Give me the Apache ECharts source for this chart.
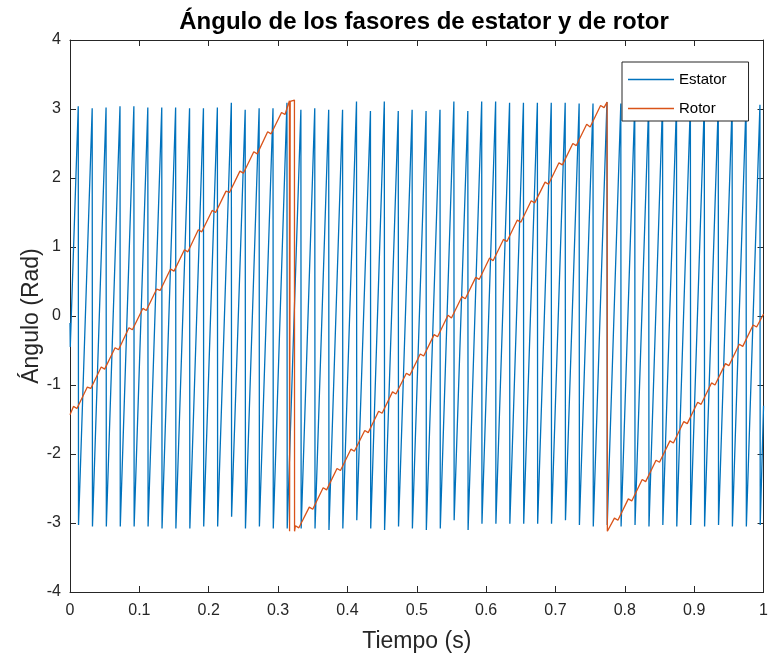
<!DOCTYPE html>
<html>
<head>
<meta charset="utf-8">
<script src="https://cdn.jsdelivr.net/npm/echarts@6/dist/echarts.min.js"></script>
<style>html,body{margin:0;padding:0;background:#fff;}#chart{width:771px;height:661px;}</style>
</head>
<body>
<div id="chart"></div>
<script>
// ---- tick labels ----
const xTickLabels = ['0','0.1','0.2','0.3','0.4','0.5','0.6','0.7','0.8','0.9','1'];
const yTickLabels = ['-4','-3','-2','-1','0','1','2','3','4'];
const seriesNames = ['Estator','Rotor'];

// ---- stator (sawtooth) ----
const statorStartT = [0, 0.0004];
const statorStartV = [-0.10, -0.45];
const statorPeakT = [0.0119,0.0320,0.0520,0.0721,0.0921,0.1122,0.1323,0.1523,0.1724,0.1924,0.2125,0.2326,0.2526,0.2727,0.2927,0.3128,0.3329,0.3529,0.3730,0.3930,0.4131,0.4332,0.4532,0.4733,0.4933,0.5134,0.5335,0.5535,0.5736,0.5936,0.6137,0.6338,0.6538,0.6739,0.6939,0.7140,0.7341,0.7541,0.7742,0.7942,0.8143,0.8344,0.8544,0.8745,0.8945,0.9146,0.9347,0.9547,0.9748,0.9948];
const statorPeakV = [3.04,3.01,3.02,3.04,3.04,3.02,3.02,3.02,3.01,3.01,3.02,3.09,2.99,3.01,3.01,3.09,2.99,3.01,2.99,2.99,3.11,2.97,3.11,2.97,2.99,2.97,2.99,3.11,2.97,3.11,3.11,3.09,3.09,3.09,3.09,3.09,3.08,3.08,3.10,3.08,3.06,3.08,3.10,3.06,3.08,3.08,3.06,3.08,3.10,3.06];
const statorTroughT = [0.0123,0.0324,0.0524,0.0725,0.0925,0.1126,0.1327,0.1527,0.1728,0.1928,0.2129,0.2330,0.2530,0.2731,0.2931,0.3132,0.3333,0.3533,0.3734,0.3934,0.4135,0.4336,0.4536,0.4737,0.4937,0.5138,0.5339,0.5539,0.5740,0.5940,0.6141,0.6342,0.6542,0.6743,0.6943,0.7144,0.7345,0.7545,0.7746,0.7946,0.8147,0.8348,0.8548,0.8749,0.8949,0.9150,0.9351,0.9551,0.9752,0.9952];
const statorTroughV = [-3.03,-3.05,-3.05,-3.05,-3.05,-3.05,-3.08,-3.08,-3.08,-3.05,-3.05,-2.91,-3.08,-3.05,-3.08,-3.08,-3.08,-3.08,-3.10,-3.08,-2.96,-3.08,-3.10,-3.05,-3.08,-3.10,-3.08,-2.96,-3.10,-3.01,-3.01,-3.01,-3.01,-3.01,-3.01,-2.96,-3.03,-3.05,-3.03,-3.05,-3.03,-3.05,-3.03,-3.05,-3.03,-3.05,-3.03,-3.05,-3.05,-3.03];
const statorEndT = [1.0];
const statorEndV = [-1.30];

// ---- rotor (slow sawtooth with small ripple) ----
const rotorT = [0,
  0.005,0.010,0.025,0.030,0.045,0.050,0.065,0.070,0.085,0.090,0.105,0.110,0.125,0.130,0.145,0.150,0.165,0.170,0.185,0.190,0.205,0.210,0.225,0.230,0.245,0.250,0.265,0.270,0.285,0.290,0.305,0.310,
  0.3164,0.3166,0.3172,0.3175,0.3236,0.3238,
  0.325,0.330,0.345,0.350,0.365,0.370,0.385,0.390,0.405,0.410,0.425,0.430,0.445,0.450,0.465,0.470,0.485,0.490,0.505,0.510,0.525,0.530,0.545,0.550,0.565,0.570,0.585,0.590,0.605,0.610,0.625,0.630,0.645,0.650,0.665,0.670,0.685,0.690,0.705,0.710,0.725,0.730,0.745,0.750,0.765,0.770,
  0.7744,0.7748,
  0.785,0.790,0.805,0.810,0.825,0.830,0.845,0.850,0.865,0.870,0.885,0.890,0.905,0.910,0.925,0.930,0.945,0.950,0.965,0.970,0.985,0.990,1.0];
const rotorV = [-1.43,
  -1.31,-1.34,-1.03,-1.05,-0.74,-0.77,-0.46,-0.49,-0.17,-0.20,0.11,0.08,0.39,0.37,0.68,0.65,0.96,0.93,1.25,1.22,1.53,1.50,1.81,1.79,2.10,2.07,2.38,2.35,2.67,2.64,2.95,2.92,
  3.12,-3.12,-3.10,3.11,3.13,-3.12,
  -3.04,-3.07,-2.77,-2.80,-2.49,-2.52,-2.21,-2.24,-1.93,-1.96,-1.66,-1.69,-1.38,-1.41,-1.10,-1.13,-0.83,-0.86,-0.55,-0.58,-0.27,-0.30,0.01,-0.03,0.28,0.25,0.56,0.53,0.84,0.80,1.11,1.08,1.39,1.36,1.67,1.64,1.94,1.91,2.22,2.19,2.50,2.47,2.78,2.74,3.05,3.02,
  3.10,-3.12,
  -2.93,-2.96,-2.65,-2.68,-2.37,-2.40,-2.09,-2.12,-1.81,-1.84,-1.53,-1.56,-1.25,-1.28,-0.97,-1.00,-0.69,-0.72,-0.41,-0.44,-0.13,-0.16,0.03];

// ---- build series data ----
const statorData = [];
for (let i = 0; i < statorStartT.length; i++) statorData.push([statorStartT[i], statorStartV[i]]);
for (let k = 0; k < statorPeakT.length; k++) {
  statorData.push([statorPeakT[k], statorPeakV[k]]);
  statorData.push([statorTroughT[k], statorTroughV[k]]);
}
for (let i = 0; i < statorEndT.length; i++) statorData.push([statorEndT[i], statorEndV[i]]);
const rotorData = rotorT.map((t, i) => [t, rotorV[i]]);

const FONT = 'Liberation Sans, Arial, Helvetica, sans-serif';
const AX = '#262626';
const chart = echarts.init(document.getElementById('chart'), null, {renderer: 'canvas'});
const baseX = {
  type: 'value', min: 0, max: 1, interval: 0.1,
  axisLine: {show: true, onZero: false, lineStyle: {color: AX, width: 1}},
  axisTick: {show: true, inside: true, length: 6, lineStyle: {color: AX}},
  splitLine: {show: false}
};
const baseY = {
  type: 'value', min: -4, max: 4, interval: 1,
  axisLine: {show: true, onZero: false, lineStyle: {color: AX, width: 1}},
  axisTick: {show: true, inside: true, length: 6, lineStyle: {color: AX}},
  splitLine: {show: false}
};
chart.setOption({
  animation: false,
  backgroundColor: '#ffffff',
  title: {
    text: 'Ángulo de los fasores de estator y de rotor',
    left: 419, top: 5, textAlign: 'center',
    textStyle: {fontFamily: FONT, fontSize: 24, fontWeight: 'bold', color: '#000'}
  },
  grid: {left: 70, top: 40, width: 698, height: 552, containLabel: false},
  legend: {
    data: seriesNames,
    icon: 'path://M0,0L46,0L46,1.4L0,1.4Z',
    orient: 'vertical', left: 622, top: 62,
    itemWidth: 46, itemHeight: 14, itemGap: 14,
    padding: [10, 22, 5, 6],
    backgroundColor: '#fff', borderColor: AX, borderWidth: 1, borderRadius: 0,
    textStyle: {fontFamily: FONT, fontSize: 15, color: '#000'}
  },
  xAxis: [
    Object.assign({}, baseX, {
      position: 'bottom',
      name: 'Tiempo (s)', nameLocation: 'middle', nameGap: 38,
      nameTextStyle: {fontFamily: FONT, fontSize: 23, color: AX},
      axisLabel: {show: true, margin: 11, fontFamily: FONT, fontSize: 16, color: AX,
        formatter: v => xTickLabels[Math.round(v * 10)]}
    }),
    Object.assign({}, baseX, {position: 'top', axisLabel: {show: false}})
  ],
  yAxis: [
    Object.assign({}, baseY, {
      position: 'left',
      name: 'Ángulo (Rad)', nameLocation: 'middle', nameGap: 27, nameMoveOverlap: false,
      nameTextStyle: {fontFamily: FONT, fontSize: 23, color: AX},
      axisLabel: {show: true, margin: 9, fontFamily: FONT, fontSize: 16, color: AX,
        formatter: v => yTickLabels[Math.round(v) + 4]}
    }),
    Object.assign({}, baseY, {position: 'right', axisLabel: {show: false}})
  ],
  series: [
    {name: seriesNames[0], type: 'line', xAxisIndex: 0, yAxisIndex: 0, data: statorData,
      symbol: 'none', showSymbol: false, lineStyle: {color: '#0072BD', width: 1.3}, itemStyle: {color: '#0072BD'}, z: 2},
    {name: seriesNames[1], type: 'line', xAxisIndex: 0, yAxisIndex: 0, data: rotorData,
      symbol: 'none', showSymbol: false, lineStyle: {color: '#D95319', width: 1.3}, itemStyle: {color: '#D95319'}, z: 3}
  ]
});
</script>
</body>
</html>
